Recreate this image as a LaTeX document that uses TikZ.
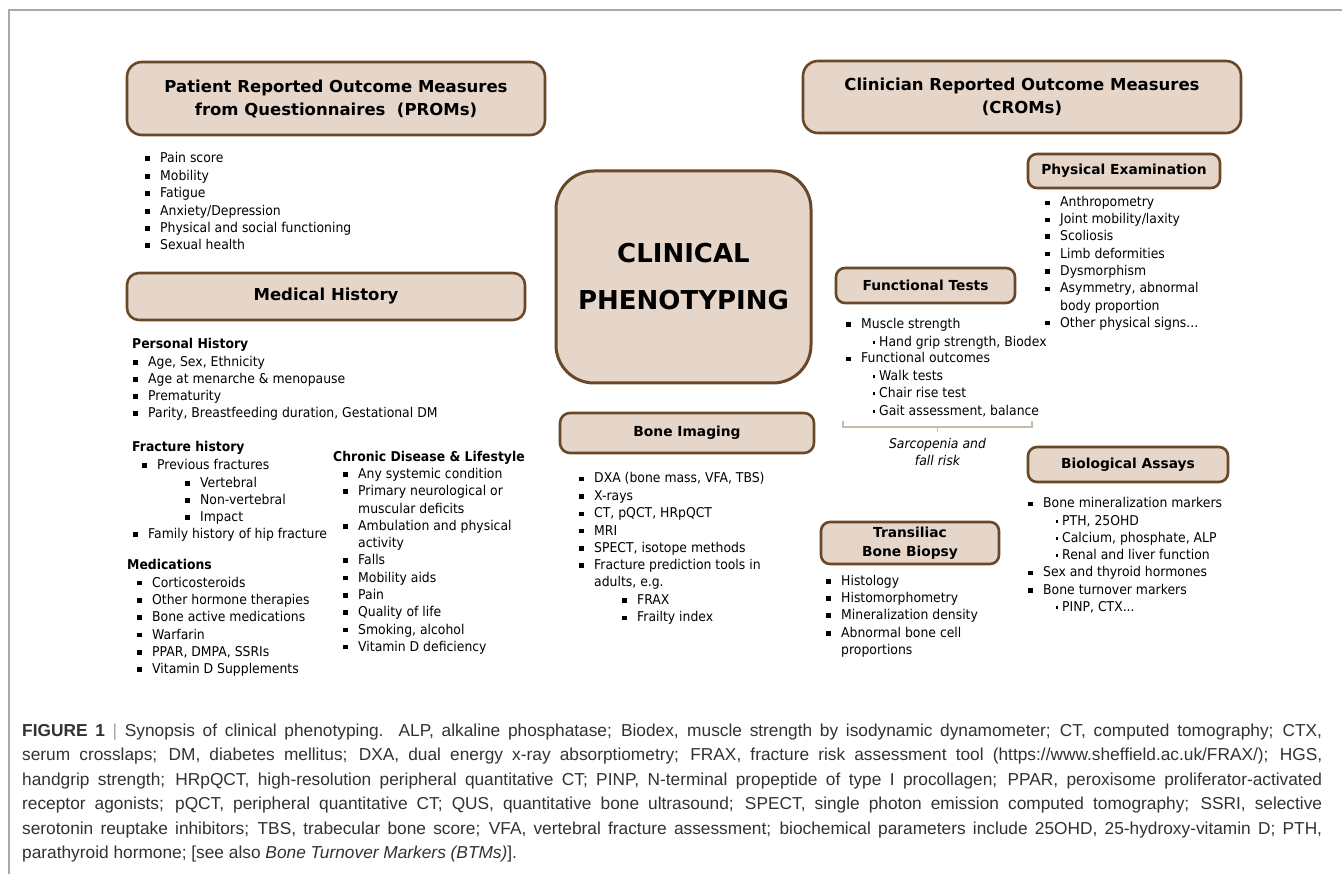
\documentclass[tikz,border=0pt]{standalone}
\usepackage{fontspec}
\setmainfont{DejaVu Sans}
\newfontfamily\bodyf{DejaVu Sans}[FakeStretch=0.92]
\newfontfamily\headf{DejaVu Sans}
\newfontfamily\capf{Liberation Sans}
\definecolor{boxfill}{RGB}{229,214,201}
\definecolor{boxline}{RGB}{105,72,42}
\definecolor{framec}{RGB}{170,170,170}
\definecolor{bracec}{RGB}{200,185,168}
\definecolor{capc}{RGB}{50,50,50}
\newcommand\sqb{\makebox[0pt][r]{\rule[1.7pt]{4.5pt}{4.5pt}\hspace{10.3pt}}}
\newcommand\dtb{\makebox[0pt][r]{\rule[2.6pt]{2.7pt}{2.7pt}\hspace{4pt}}}
\newcommand\myitem[4]{\node[itm] (#1) at (#2,#3+4.5) {#4};}
\newcommand\mysec[4]{\node[sec] (#1) at (#2,#3+4.5) {#4};}
\tikzset{
  box/.style={draw=boxline, fill=boxfill, line width=2.6pt, rounded corners=12pt,
    inner sep=0pt, align=center, text=black},
  bighead/.style={font=\headf\bfseries\fontsize{16.5}{23}\selectfont},
  subhead/.style={font=\headf\bfseries\fontsize{13.8}{19}\selectfont},
  itm/.style={inner sep=0pt, anchor=base west, font=\bodyf\fontsize{13.5}{16}\selectfont},
  sec/.style={inner sep=0pt, anchor=base west, font=\bodyf\bfseries\fontsize{13.5}{16}\selectfont},
  capline/.style={inner sep=0pt, anchor=base west, text=capc, font=\capf\fontsize{17.3}{24}\selectfont},
}
\begin{document}
\begin{tikzpicture}[x=1pt,y=-1pt]
\useasboundingbox (0,0) rectangle (1342,874);
\fill[white] (0,0) rectangle (1342,874);
% frame
\draw[framec, line width=1.3pt] (9,874) -- (9,10) -- (1342,10);

% ---------- boxes ----------
\node[box, bighead, minimum width=418pt, minimum height=73pt, rounded corners=15pt] (proms) at (336,98.5)
  {Patient Reported Outcome Measures\\from Questionnaires\ \ (PROMs)};
\node[box, bighead, minimum width=398pt, minimum height=47pt] (medh) at (326,296.5) {Medical History};
\node[box, bighead, minimum width=438pt, minimum height=72pt, rounded corners=15pt] (croms) at (1022,97)
  {Clinician Reported Outcome Measures\\(CROMs)};
\node[box, line width=3pt, rounded corners=38pt, minimum width=255pt, minimum height=212pt,
  font=\headf\bfseries\fontsize{26}{47}\selectfont] (clin) at (683.5,277) {CLINICAL\\PHENOTYPING};
\node[box, subhead, minimum width=254pt, minimum height=40pt, rounded corners=10pt] (bimg) at (687,433) {Bone Imaging};
\node[box, subhead, minimum width=192pt, minimum height=34pt, rounded corners=9pt] (phys) at (1124,171) {Physical Examination};
\node[box, subhead, minimum width=179pt, minimum height=35pt, rounded corners=9pt] (func) at (925.5,285.5) {Functional Tests};
\node[box, subhead, minimum width=200pt, minimum height=35pt, rounded corners=9pt] (bio) at (1128,464.5) {Biological Assays};
\node[box, subhead, minimum width=178pt, minimum height=42pt, rounded corners=9pt] (bx) at (910,543) {Transiliac\\Bone Biopsy};

% ---------- PROMs list ----------
\myitem{p1}{160}{158}{\sqb Pain score}
\myitem{p2}{160}{176}{\sqb Mobility}
\myitem{p3}{160}{193}{\sqb Fatigue}
\myitem{p4}{160}{211}{\sqb Anxiety/Depression}
\myitem{p5}{160}{228}{\sqb Physical and social functioning}
\myitem{p6}{160}{245}{\sqb Sexual health}

% ---------- Medical history ----------
\mysec{ph}{132}{344}{Personal History}
\myitem{ph1}{148}{362}{\sqb Age, Sex, Ethnicity}
\myitem{ph2}{148}{379}{\sqb Age at menarche \& menopause}
\myitem{ph3}{148}{396}{\sqb Prematurity}
\myitem{ph4}{148}{413}{\sqb Parity, Breastfeeding duration, Gestational DM}
\mysec{fh}{132}{447}{Fracture history}
\myitem{fh1}{157}{465}{\sqb Previous fractures}
\myitem{fh2}{200}{483}{\sqb Vertebral}
\myitem{fh3}{200}{500}{\sqb Non-vertebral}
\myitem{fh4}{200}{517}{\sqb Impact}
\myitem{fh5}{148}{534}{\sqb Family history of hip fracture}
\mysec{md}{127}{565}{Medications}
\myitem{md1}{152}{582.5}{\sqb Corticosteroids}
\myitem{md2}{152}{600}{\sqb Other hormone therapies}
\myitem{md3}{152}{617}{\sqb Bone active medications}
\myitem{md4}{152}{634.5}{\sqb Warfarin}
\myitem{md5}{152}{652}{\sqb PPAR, DMPA, SSRIs}
\myitem{md6}{152}{669}{\sqb Vitamin D Supplements}
\mysec{cd}{333}{456.5}{Chronic Disease \& Lifestyle}
\myitem{cd1}{358}{474}{\sqb Any systemic condition}
\myitem{cd2}{358}{491}{\sqb Primary neurological or}
\myitem{cd2b}{358}{508.5}{muscular deficits}
\myitem{cd3}{358}{526}{\sqb Ambulation and physical}
\myitem{cd3b}{358}{543}{activity}
\myitem{cd4}{358}{560}{\sqb Falls}
\myitem{cd5}{358}{577.5}{\sqb Mobility aids}
\myitem{cd6}{358}{595}{\sqb Pain}
\myitem{cd7}{358}{612}{\sqb Quality of life}
\myitem{cd8}{358}{629.5}{\sqb Smoking, alcohol}
\myitem{cd9}{358}{646.5}{\sqb Vitamin D deficiency}

% ---------- Bone imaging ----------
\myitem{b1}{594}{478.3}{\sqb DXA (bone mass, VFA, TBS)}
\myitem{b2}{594}{496}{\sqb X-rays}
\myitem{b3}{594}{513.3}{\sqb CT, pQCT, HRpQCT}
\myitem{b4}{594}{530.7}{\sqb MRI}
\myitem{b5}{594}{547.7}{\sqb SPECT, isotope methods}
\myitem{b6}{594}{565}{\sqb Fracture prediction tools in}
\myitem{b6b}{594}{582.3}{adults, e.g.}
\myitem{b7}{637}{600}{\sqb FRAX}
\myitem{b8}{637}{617.3}{\sqb Frailty index}

% ---------- Physical examination ----------
\myitem{e1}{1060}{202.3}{\sqb Anthropometry}
\myitem{e2}{1060}{219.3}{\sqb Joint mobility/laxity}
\myitem{e3}{1060}{236}{\sqb Scoliosis}
\myitem{e4}{1060}{253.7}{\sqb Limb deformities}
\myitem{e5}{1060}{271}{\sqb Dysmorphism}
\myitem{e6}{1060}{288.3}{\sqb Asymmetry, abnormal}
\myitem{e6b}{1060}{305.7}{body proportion}
\myitem{e7}{1060}{322.7}{\sqb Other physical signs...}

% ---------- Functional tests ----------
\myitem{f1}{861}{324}{\sqb Muscle strength}
\myitem{f2}{879}{341.7}{\dtb Hand grip strength, Biodex}
\myitem{f3}{861}{358.3}{\sqb Functional outcomes}
\myitem{f4}{879}{376}{\dtb Walk tests}
\myitem{f5}{879}{393.3}{\dtb Chair rise test}
\myitem{f6}{879}{410.7}{\dtb Gait assessment, balance}
\coordinate (brL) at (843,421);
\coordinate (brR) at (1032,421);
\coordinate (brM) at (937.5,432);
\draw[bracec, line width=1.3pt] (brL) -- (brL |- 0,427) -- (brR |- 0,427) -- (brR);
\draw[bracec, line width=1.3pt] (brM |- 0,427) -- (brM);
\node[inner sep=0pt, align=center, font=\bodyf\itshape\fontsize{13.5}{16.5}\selectfont] (sar) at (937.5,452)
  {Sarcopenia and\\fall risk};

% ---------- Biological assays ----------
\myitem{a1}{1043}{503.3}{\sqb Bone mineralization markers}
\myitem{a2}{1062}{520.7}{\dtb PTH, 25OHD}
\myitem{a3}{1062}{537.7}{\dtb Calcium, phosphate, ALP}
\myitem{a4}{1062}{555}{\dtb Renal and liver function}
\myitem{a5}{1043}{572.3}{\sqb Sex and thyroid hormones}
\myitem{a6}{1043}{590}{\sqb Bone turnover markers}
\myitem{a7}{1062}{606.7}{\dtb PINP, CTX...}

% ---------- Biopsy ----------
\myitem{t1}{841}{580.7}{\sqb Histology}
\myitem{t2}{841}{598}{\sqb Histomorphometry}
\myitem{t3}{841}{615}{\sqb Mineralization density}
\myitem{t4}{841}{632.7}{\sqb Abnormal bone cell}
\myitem{t4b}{841}{650}{proportions}

% ---------- caption ----------
\node[capline] (c1) at (22,736) {\hbox to 1300pt{\textbf{FIGURE 1}\ {\color{gray!70}|}\ Synopsis of clinical phenotyping. ALP, alkaline phosphatase; Biodex, muscle strength by isodynamic dynamometer; CT, computed tomography; CTX,}};
\node[capline] (c2) at (22,760.5) {\hbox to 1300pt{serum crosslaps; DM, diabetes mellitus; DXA, dual energy x-ray absorptiometry; FRAX, fracture risk assessment tool (https://www.sheffield.ac.uk/FRAX/); HGS,}};
\node[capline] (c3) at (22,785) {\hbox to 1300pt{handgrip strength; HRpQCT, high-resolution peripheral quantitative CT; PINP, N-terminal propeptide of type I procollagen; PPAR, peroxisome proliferator-activated}};
\node[capline] (c4) at (22,809.5) {\hbox to 1300pt{receptor agonists; pQCT, peripheral quantitative CT; QUS, quantitative bone ultrasound; SPECT, single photon emission computed tomography; SSRI, selective}};
\node[capline] (c5) at (22,834) {\hbox to 1300pt{serotonin reuptake inhibitors; TBS, trabecular bone score; VFA, vertebral fracture assessment; biochemical parameters include 25OHD, 25-hydroxy-vitamin D; PTH,}};
\node[capline] (c6) at (22,858.5) {parathyroid hormone; [see also \textit{Bone Turnover Markers (BTMs)}].};
\end{tikzpicture}
\end{document}
